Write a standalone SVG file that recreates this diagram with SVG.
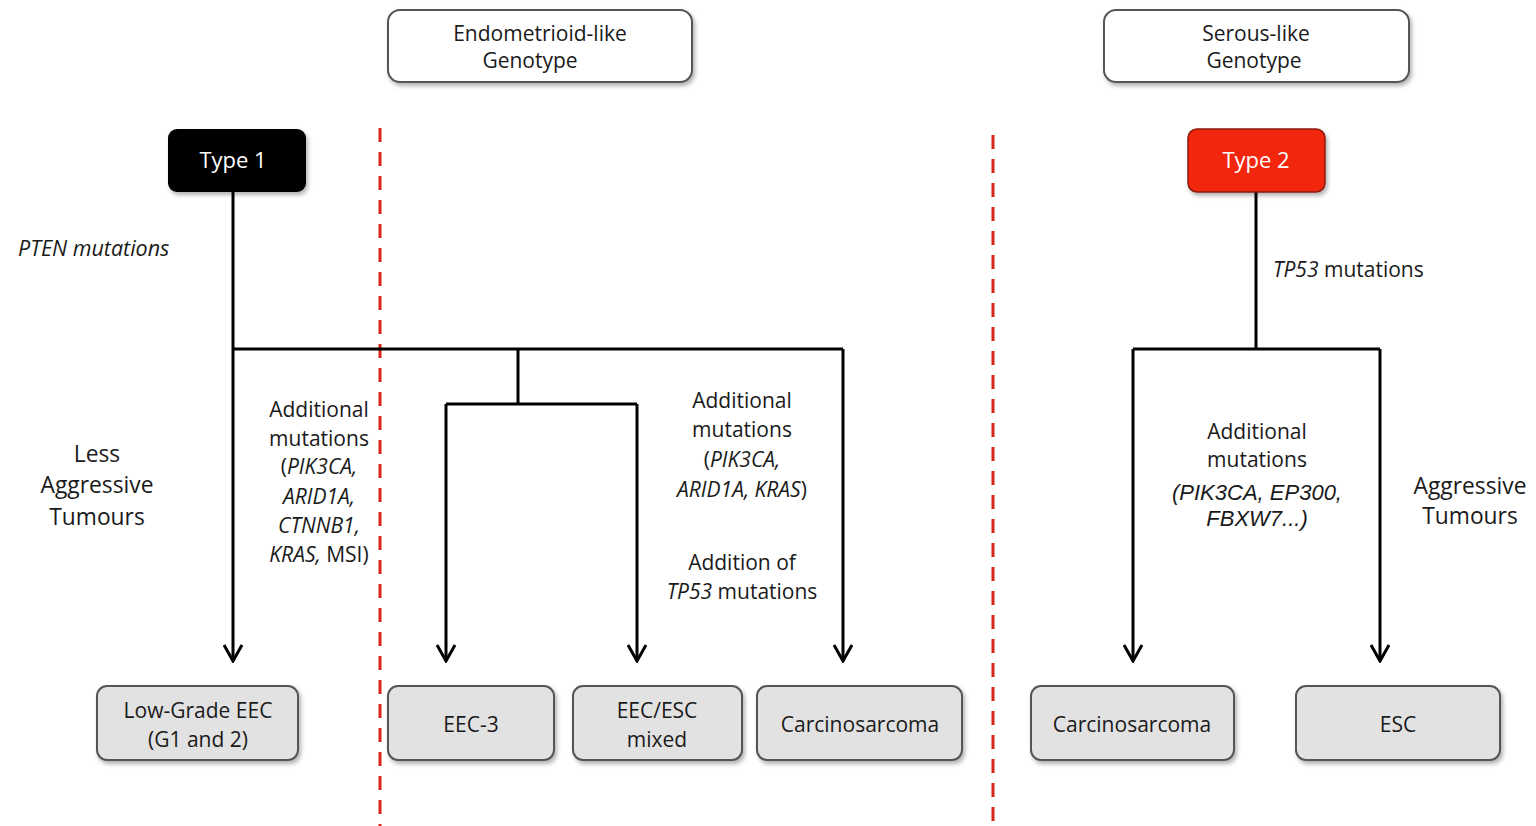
<svg xmlns="http://www.w3.org/2000/svg" width="1536" height="826" viewBox="0 0 1536 826">
<defs>
<style>
text{font-family:"Open Sans","Liberation Sans",sans-serif;font-size:21px;fill:#1a1a1a;}
.c{text-anchor:middle;}
.i{font-style:italic;}
.big{font-size:22.8px;}
.top{fill:#fff;stroke:#555;stroke-width:2;}
.leaf{fill:#e2e2e2;stroke:#555;stroke-width:2;}
.ln{stroke:#000;stroke-width:3;fill:none;}
.dash{stroke:#d9251b;stroke-width:3;stroke-dasharray:14 10;fill:none;}
.wt{fill:#fff;font-size:22px;}
.ar{font-family:"Liberation Sans",sans-serif;font-size:22px;font-style:italic;}
</style>
<marker id="ah" viewBox="0 0 20 20" markerWidth="20" markerHeight="20" refX="18" refY="10" orient="auto" markerUnits="userSpaceOnUse">
<path d="M2,1 L18,10 L2,19" fill="none" stroke="#000" stroke-width="3"/>
</marker>
<filter id="sh" x="-10%" y="-10%" width="130%" height="140%"><feDropShadow dx="2" dy="3" stdDeviation="2" flood-color="#000" flood-opacity="0.3"/></filter>
</defs>
<rect width="1536" height="826" fill="#fff"/>

<g id="dividers">
<line class="dash" x1="380" y1="128" x2="380" y2="826"/>
<line class="dash" x1="993" y1="135" x2="993" y2="826"/>
</g>

<g id="connectors">
<path class="ln" d="M233,192 V349 M233,349 H843 M518,349 V404 M446,404 H637 M1256,192 V349 M1133,349 H1380"/>
<line class="ln" x1="233" y1="349" x2="233" y2="661" marker-end="url(#ah)"/>
<line class="ln" x1="843" y1="349" x2="843" y2="661" marker-end="url(#ah)"/>
<line class="ln" x1="446" y1="404" x2="446" y2="661" marker-end="url(#ah)"/>
<line class="ln" x1="637" y1="404" x2="637" y2="661" marker-end="url(#ah)"/>
<line class="ln" x1="1133" y1="349" x2="1133" y2="661" marker-end="url(#ah)"/>
<line class="ln" x1="1380" y1="349" x2="1380" y2="661" marker-end="url(#ah)"/>
</g>

<g id="endometrioid">
<rect class="top" x="388" y="10" width="304" height="72" rx="12" filter="url(#sh)"/>
<text class="c" x="540" y="41">Endometrioid-like</text>
<text class="c" x="530" y="68">Genotype</text>
</g>
<g id="serous">
<rect class="top" x="1104" y="10" width="305" height="72" rx="12" filter="url(#sh)"/>
<text class="c" x="1256" y="41">Serous-like</text>
<text class="c" x="1254" y="68">Genotype</text>
</g>

<g id="type1">
<rect x="168" y="129" width="138" height="63" rx="9" fill="#000" filter="url(#sh)"/>
<text class="c wt" x="233" y="168">Type 1</text>
</g>
<g id="type2">
<rect x="1188" y="129" width="137" height="63" rx="9" fill="#f2260d" stroke="#8a1a0c" stroke-width="1.5" filter="url(#sh)"/>
<text class="c wt" x="1256" y="168">Type 2</text>
</g>

<g id="low-grade">
<rect class="leaf" x="97" y="686" width="201" height="74" rx="10" filter="url(#sh)"/>
<text class="c" x="198" y="718">Low-Grade EEC</text>
<text class="c" x="198" y="747">(G1 and 2)</text>
</g>
<g id="eec3">
<rect class="leaf" x="388" y="686" width="166" height="74" rx="10" filter="url(#sh)"/>
<text class="c" x="471" y="732">EEC-3</text>
</g>
<g id="eec-esc">
<rect class="leaf" x="573" y="686" width="169" height="74" rx="10" filter="url(#sh)"/>
<text class="c" x="657" y="718">EEC/ESC</text>
<text class="c" x="657" y="747">mixed</text>
</g>
<g id="carcinosarcoma1">
<rect class="leaf" x="757" y="686" width="205" height="74" rx="10" filter="url(#sh)"/>
<text class="c" x="860" y="732">Carcinosarcoma</text>
</g>
<g id="carcinosarcoma2">
<rect class="leaf" x="1031" y="686" width="203" height="74" rx="10" filter="url(#sh)"/>
<text class="c" x="1132" y="732">Carcinosarcoma</text>
</g>
<g id="esc">
<rect class="leaf" x="1296" y="686" width="204" height="74" rx="10" filter="url(#sh)"/>
<text class="c" x="1398" y="732">ESC</text>
</g>

<g id="labels">
<text class="i" x="18" y="256" style="font-size:21.5px">PTEN mutations</text>
<text class="c big" x="97" y="462">Less</text>
<text class="c big" x="97" y="493">Aggressive</text>
<text class="c big" x="97" y="525">Tumours</text>

<text class="c" x="319" y="417">Additional</text>
<text class="c" x="319" y="446">mutations</text>
<text class="c" x="319" y="474">(<tspan class="i">PIK3CA,</tspan></text>
<text class="c i" x="319" y="504">ARID1A,</text>
<text class="c i" x="319" y="533">CTNNB1,</text>
<text class="c" x="319" y="562"><tspan class="i">KRAS,</tspan> MSI)</text>

<text class="c" x="742" y="408">Additional</text>
<text class="c" x="742" y="437">mutations</text>
<text class="c" x="742" y="467">(<tspan class="i">PIK3CA,</tspan></text>
<text class="c" x="742" y="497"><tspan class="i">ARID1A, KRAS</tspan>)</text>
<text class="c" x="742" y="570">Addition of</text>
<text class="c" x="742" y="599"><tspan class="i">TP53</tspan> mutations</text>

<text x="1273" y="277"><tspan class="i">TP53</tspan> mutations</text>
<text class="c" x="1257" y="439">Additional</text>
<text class="c" x="1257" y="467">mutations</text>
<text class="c ar" x="1257" y="500">(PIK3CA, EP300,</text>
<text class="c ar" x="1257" y="526">FBXW7...)</text>

<text class="c big" x="1470" y="494">Aggressive</text>
<text class="c big" x="1470" y="524">Tumours</text>
</g>
</svg>
